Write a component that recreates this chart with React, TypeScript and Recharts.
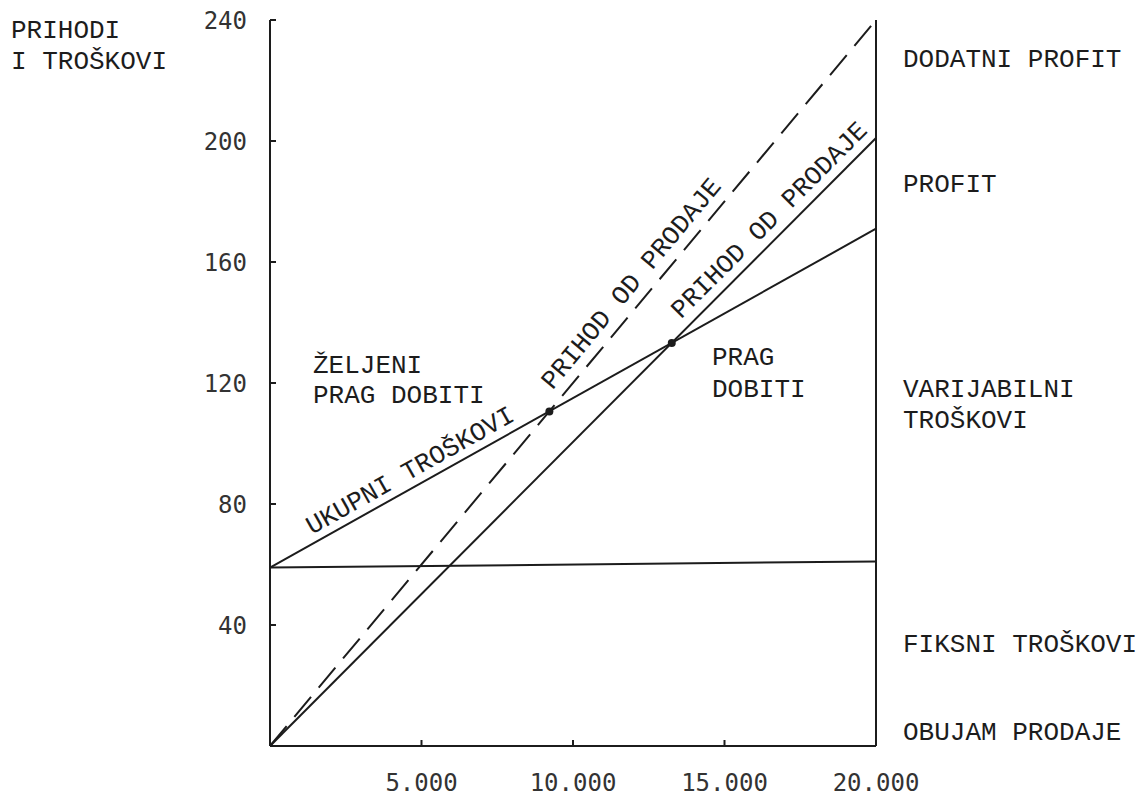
import React from 'react';
import { LineChart, Line, XAxis, YAxis, ReferenceLine, ReferenceDot } from 'recharts';

// obujam prodaje (komada) i vrijednosti (u tisućama)
const volume = [0, 20000];
const fixedCosts = [59, 61];
const totalCosts = [59, 171];
const salesRevenue = [0, 201];
const targetRevenue = [0, 240];

const volumeTicks = [5000, 10000, 15000, 20000];
const valueTicks = [40, 80, 120, 160, 200, 240];

// točke pokrića (želljeni i stvarni prag dobiti)
const breakEvenVolume = [9220, 13260];
const breakEvenValue = [110.6, 133.2];

const INK = '#1c1c1c';
const TYPE = '"Liberation Mono", "DejaVu Sans Mono", monospace';
const DIGITS = '"DejaVu Sans Mono", monospace';

const rows = volume.map((v, i) => ({
  v,
  fixed: fixedCosts[i],
  total: totalCosts[i],
  sales: salesRevenue[i],
  target: targetRevenue[i],
}));

// vrijednost pravca u zadanoj točki (za natpise uz linije)
function lineAt(series: number[], v: number) {
  const t = (v - volume[0]) / (volume[1] - volume[0]);
  return series[0] + t * (series[1] - series[0]);
}

function slantedLabel(text: string, angle: number, lift = 8) {
  return (props: any) => (
    <text
      x={props.cx}
      y={props.cy}
      dy={-lift}
      transform={`rotate(${angle} ${props.cx} ${props.cy})`}
      fontFamily={TYPE}
      fontSize={26}
      fill={INK}
    >
      {text}
    </text>
  );
}

const lineLabels = [
  { text: 'UKUPNI TROŠKOVI', series: totalCosts, at: 1520, angle: -29.4, lift: 8 },
  { text: 'PRIHOD OD PRODAJE', series: targetRevenue, at: 9600, angle: -50.2, lift: 11 },
  { text: 'PRIHOD OD PRODAJE', series: salesRevenue, at: 13800, angle: -45, lift: 10 },
];

const notes: Array<[string, number, number]> = [
  ['PRIHODI', 11, 38],
  ['I TROŠKOVI', 11, 69],
  ['DODATNI PROFIT', 903, 67],
  ['PROFIT', 903, 192],
  ['VARIJABILNI', 903, 397],
  ['TROŠKOVI', 903, 428],
  ['FIKSNI TROŠKOVI', 903, 652],
  ['OBUJAM PRODAJE', 903, 740],
  ['ŽELJENI', 313, 373],
  ['PRAG DOBITI', 313, 403],
  ['PRAG', 712, 365],
  ['DOBITI', 712, 397],
];

export default function App() {
  return (
    <div style={{ position: 'absolute', left: 0, top: 0, width: 1140, height: 801, background: '#fff' }}>
      <LineChart width={1140} height={801} data={rows} margin={{ top: 20, right: 264, bottom: 5, left: 200 }}>
        <XAxis
          dataKey="v"
          type="number"
          domain={[0, 20000]}
          ticks={volumeTicks}
          tickFormatter={(v: number) => v.toLocaleString('de-DE')}
          height={50}
          tickSize={-6}
          tickMargin={34}
          axisLine={{ stroke: INK, strokeWidth: 2 }}
          tickLine={{ stroke: INK, strokeWidth: 2 }}
          tick={{ fill: '#333', fontFamily: DIGITS, fontSize: 24 }}
        />
        <YAxis
          type="number"
          domain={[0, 240]}
          ticks={valueTicks}
          width={70}
          tickSize={-6}
          tickMargin={29}
          axisLine={{ stroke: INK, strokeWidth: 2 }}
          tickLine={{ stroke: INK, strokeWidth: 2 }}
          tick={{ fill: '#333', fontFamily: DIGITS, fontSize: 24 }}
        />
        <ReferenceLine x={20000} stroke={INK} strokeWidth={2} />
        <Line dataKey="fixed" stroke={INK} strokeWidth={2} dot={false} isAnimationActive={false} />
        <Line dataKey="total" stroke={INK} strokeWidth={2} dot={false} isAnimationActive={false} />
        <Line dataKey="sales" stroke={INK} strokeWidth={2} dot={false} isAnimationActive={false} />
        <Line
          dataKey="target"
          stroke={INK}
          strokeWidth={2}
          strokeDasharray="26 12"
          dot={false}
          isAnimationActive={false}
        />
        {breakEvenVolume.map((v, i) => (
          <ReferenceDot key={'be' + i} x={v} y={breakEvenValue[i]} r={4} fill={INK} stroke="none" />
        ))}
        {lineLabels.map((l, i) => (
          <ReferenceDot
            key={'lbl' + i}
            x={l.at}
            y={lineAt(l.series, l.at)}
            r={0}
            shape={slantedLabel(l.text, l.angle, l.lift)}
          />
        ))}
      </LineChart>
      <svg width={1140} height={801} style={{ position: 'absolute', left: 0, top: 0, pointerEvents: 'none' }}>
        {notes.map(([t, x, y], i) => (
          <text key={i} x={x} y={y} fontFamily={TYPE} fontSize={26} fill={INK}>
            {t}
          </text>
        ))}
      </svg>
    </div>
  );
}
